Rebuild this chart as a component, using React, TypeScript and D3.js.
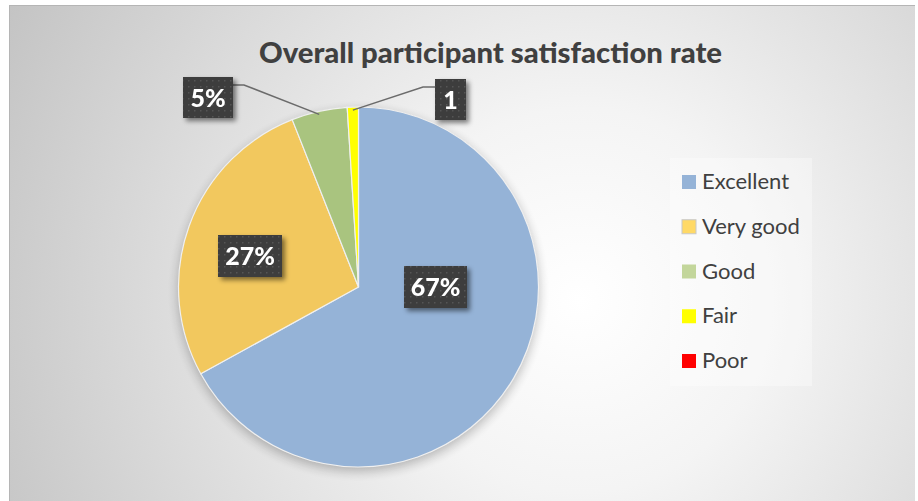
import React, { useEffect, useRef } from "react";
import * as d3 from "d3";

const categories = ["Excellent", "Very good", "Good", "Fair", "Poor"];
const values = [67, 27, 5, 1, 0];
const labels = ["67%", "27%", "5%", "1", ""];
const pieColors = ["#95B3D7", "#F2C85E", "#A9C47F", "#FFFF00", "#FF0000"];
const legendColors = ["#95B3D7", "#FFD966", "#C3D69B", "#FFFF00", "#FF0000"];
const title = "Overall participant satisfaction rate";

const W = 918;
const H = 501;

export default function App() {
  const ref = useRef<SVGSVGElement | null>(null);

  useEffect(() => {
    const svg = d3.select(ref.current);
    svg.selectAll("*").remove();

    const defs = svg.append("defs");
    const rg = defs
      .append("radialGradient")
      .attr("id", "bg")
      .attr("gradientUnits", "userSpaceOnUse")
      .attr("cx", 580)
      .attr("cy", 300)
      .attr("r", 640);
    rg.append("stop").attr("offset", "0").attr("stop-color", "#ffffff");
    rg.append("stop").attr("offset", "0.3").attr("stop-color", "#f4f4f4");
    rg.append("stop").attr("offset", "1").attr("stop-color", "#c4c4c4");

    const sh = defs.append("filter").attr("id", "pieShadow").attr("x", "-20%").attr("y", "-20%").attr("width", "140%").attr("height", "140%");
    sh.append("feGaussianBlur").attr("in", "SourceAlpha").attr("stdDeviation", 6);
    sh.append("feOffset").attr("dx", 0).attr("dy", 4).attr("result", "b");
    sh.append("feComponentTransfer").append("feFuncA").attr("type", "linear").attr("slope", 0.3);
    const m = sh.append("feMerge");
    m.append("feMergeNode");
    m.append("feMergeNode").attr("in", "SourceGraphic");

    const bs = defs.append("filter").attr("id", "boxShadow").attr("x", "-30%").attr("y", "-30%").attr("width", "160%").attr("height", "160%");
    bs.append("feGaussianBlur").attr("in", "SourceAlpha").attr("stdDeviation", 2.5);
    bs.append("feOffset").attr("dx", 3).attr("dy", 3);
    bs.append("feComponentTransfer").append("feFuncA").attr("type", "linear").attr("slope", 0.5);
    const m2 = bs.append("feMerge");
    m2.append("feMergeNode");
    m2.append("feMergeNode").attr("in", "SourceGraphic");

    const pat = defs.append("pattern").attr("id", "dots").attr("patternUnits", "userSpaceOnUse").attr("width", 6).attr("height", 6);
    pat.append("rect").attr("width", 6).attr("height", 6).attr("fill", "#3d3d3d");
    pat.append("rect").attr("x", 2).attr("y", 2).attr("width", 1.5).attr("height", 1.5).attr("fill", "#555555");

    // chart area
    svg.append("rect").attr("x", 9).attr("y", 5).attr("width", 906).attr("height", 496).attr("fill", "url(#bg)");
    svg.append("line").attr("x1", 9).attr("x2", 915).attr("y1", 5.5).attr("y2", 5.5).attr("stroke", "#b5b5b5");
    svg.append("line").attr("x1", 9.5).attr("x2", 9.5).attr("y1", 5).attr("y2", 501).attr("stroke", "#b5b5b5");

    svg
      .append("text")
      .attr("x", 490.5)
      .attr("y", 63)
      .attr("text-anchor", "middle")
      .attr("font-family", "Lato, 'Open Sans', sans-serif")
      .attr("font-weight", "900")
      .attr("font-size", 29)
      .attr("fill", "#404040")
      .attr("textLength", 463)
      .attr("lengthAdjust", "spacingAndGlyphs")
      .text(title);

    // pie
    const cx = 358.5;
    const cy = 287;
    const r = 180;
    const data = categories.map((c, i) => ({ c, v: values[i], i }));
    const pie = d3.pie<any>().value((d) => d.v).sort(null);
    const arcs = pie(data);
    const arc = d3.arc<any>().innerRadius(0).outerRadius(r);

    const g = svg.append("g").attr("transform", `translate(${cx},${cy})`);
    g.append("circle").attr("r", r).attr("fill", "#999").attr("filter", "url(#pieShadow)").attr("opacity", 0.9);
    g.selectAll("path.slice")
      .data(arcs.filter((a) => a.data.v > 0))
      .join("path")
      .attr("class", "slice")
      .attr("d", arc as any)
      .attr("fill", (d) => pieColors[d.data.i])
      .attr("stroke", "#f0f0f0")
      .attr("stroke-width", 1.2);

    const boxFont = "Lato, 'Open Sans', sans-serif";
    const labelPos: { [k: number]: { x: number; y: number; w: number; h: number } } = {
      0: { x: 404, y: 266, w: 63, h: 42 },
      1: { x: 218, y: 235, w: 64, h: 42 },
      2: { x: 183, y: 77, w: 50, h: 41 },
      3: { x: 435, y: 79, w: 31, h: 41 },
    };
    const edge = d3.arc<any>().innerRadius(r).outerRadius(r);
    arcs.forEach((a) => {
      const i = a.data.i;
      const lp = labelPos[i];
      if (!lp) return;
      if (i === 2 || i === 3) {
        const [ex, ey] = (edge as any).centroid(a);
        const sx = cx + ex;
        const sy = cy + ey + 3;
        const leftSide = i === 2;
        const bx = leftSide ? lp.x + lp.w : lp.x;
        const by = lp.y + 8;
        const kx = leftSide ? bx + 11 : bx - 12;
        svg
          .append("polyline")
          .attr("points", `${bx},${by} ${kx},${by} ${sx},${sy}`)
          .attr("fill", "none")
          .attr("stroke", "#6b6b6b")
          .attr("stroke-width", 1.5);
      }
    });
    arcs.forEach((a) => {
      const i = a.data.i;
      const lp = labelPos[i];
      if (!lp) return;
      const bg = svg.append("g").attr("filter", "url(#boxShadow)");
      bg.append("rect").attr("x", lp.x).attr("y", lp.y).attr("width", lp.w).attr("height", lp.h).attr("fill", "url(#dots)");
      bg
        .append("text")
        .attr("x", lp.x + lp.w / 2)
        .attr("y", lp.y + lp.h / 2 + 9)
        .attr("text-anchor", "middle")
        .attr("font-family", boxFont)
        .attr("font-weight", "900")
        .attr("font-size", 25)
        .attr("fill", "#ffffff")
        .text(labels[i]);
    });

    // legend
    svg.append("rect").attr("x", 670).attr("y", 158).attr("width", 142).attr("height", 228).attr("fill", "#ffffff").attr("opacity", 0.35);
    const ly = d3.scalePoint<string>().domain(categories).range([182, 361]);
    const lg = svg.append("g");
    categories.forEach((c, i) => {
      const y = ly(c)!;
      lg.append("rect")
        .attr("x", 682)
        .attr("y", y - 7)
        .attr("width", 14)
        .attr("height", 14)
        .attr("fill", legendColors[i])
        .attr("stroke", i === 1 ? "#c8c8c8" : "none")
        .attr("stroke-width", 1);
      lg.append("text")
        .attr("x", 702)
        .attr("y", y + 7)
        .attr("font-family", boxFont)
        .attr("font-size", 22)
        .attr("fill", "#404040")
        .text(c);
    });
  }, []);

  return (
    <svg
      ref={ref}
      width={W}
      height={H}
      style={{ position: "absolute", left: 0, top: 0, background: "#ffffff" }}
    />
  );
}
